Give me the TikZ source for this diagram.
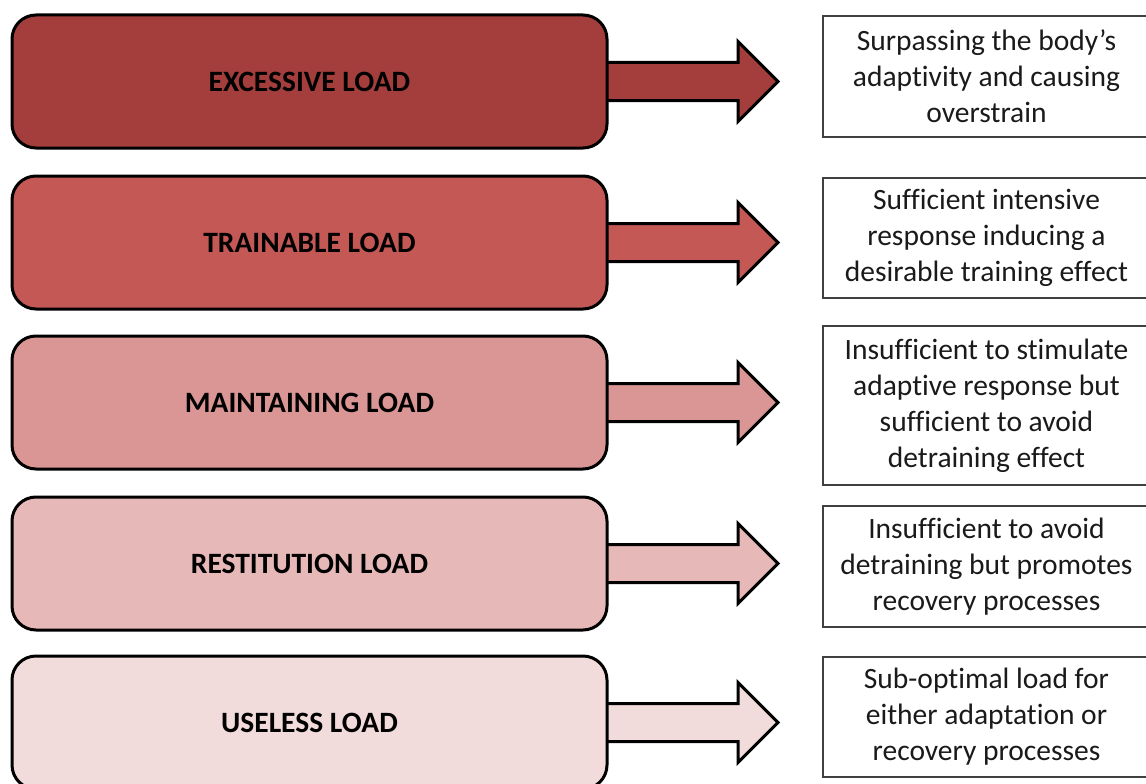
\documentclass[tikz,border=0pt]{standalone}
\usepackage{fontspec}
\setmainfont{Carlito}[Ligatures={TeX,NoCommon}]
\usetikzlibrary{calc}
\definecolor{cA}{HTML}{A33E3C}
\definecolor{cB}{HTML}{C35855}
\definecolor{cC}{HTML}{D99694}
\definecolor{cD}{HTML}{E6B9B8}
\definecolor{cE}{HTML}{F2DCDB}
\definecolor{descline}{HTML}{404040}
\definecolor{txt}{HTML}{1A1A1A}
\begin{document}
\begin{tikzpicture}[x=1pt,y=-1pt,
  loadbox/.style={draw=black, line width=3pt, rounded corners=24pt,
    minimum width=595pt, minimum height=133pt, inner sep=0pt,
    font=\fontsize{29.5}{35}\selectfont\bfseries},
  descbox/.style={draw=descline, line width=1.3pt, fill=white, align=center,
    minimum width=327pt, inner sep=0pt, text=txt,
    font=\fontsize{29.5}{36}\selectfont},
  blockarrow/.style={draw=black, line width=3pt, line join=miter}
]
\useasboundingbox (0,0) rectangle (1146,784);
\clip (0,0) rectangle (1146,784);
\fill[white] (0,0) rectangle (1146,784);

% coordinates for the arrows (drawn before the boxes)
\coordinate (P1) at (607,81.5);
\coordinate (P2) at (607,242.5);
\coordinate (P3) at (607,402.5);
\coordinate (P4) at (607,563.5);
\coordinate (P5) at (607,722.5);

\foreach \p/\c in {P1/cA,P2/cB,P3/cC,P4/cD,P5/cE}{
  \fill[\c] ($(\p)+(0,-19)$) -- ++(131,0) -- ++(0,-21) -- ++(40,40)
     -- ++(-40,40) -- ++(0,-21) -- ++(-131,0) -- cycle;
  \draw[blockarrow] ($(\p)+(0,-19)$) -- ++(131,0) -- ++(0,-21) -- ++(40,40)
     -- ++(-40,40) -- ++(0,-21) -- ++(-131,0);
}

% load boxes
\node[loadbox, fill=cA] (L1) at (309.5,81.5) {EXCESSIVE LOAD};
\node[loadbox, fill=cB] (L2) at (309.5,242.5) {TRAINABLE LOAD};
\node[loadbox, fill=cC] (L3) at (309.5,402.5) {MAINTAINING LOAD};
\node[loadbox, fill=cD] (L4) at (309.5,563.5) {RESTITUTION LOAD};
\node[loadbox, fill=cE] (L5) at (309.5,722.5) {USELESS LOAD};

% description boxes
\node[descbox, minimum height=121pt] (D1) at (986.5,76.5)
  {Surpassing the body’s\\adaptivity and causing\\overstrain};
\node[descbox, minimum height=120pt] (D2) at (986.5,238)
  {Sufficient intensive\\response inducing a\\desirable training effect};
\node[descbox, minimum height=159pt] (D3) at (986.5,405.5)
  {Insufficient to stimulate\\adaptive response but\\sufficient to avoid\\detraining effect};
\node[descbox, minimum height=121pt] (D4) at (986.5,566.5)
  {Insufficient to avoid\\detraining but promotes\\recovery processes};
\node[descbox, minimum height=120pt] (D5) at (986.5,717)
  {Sub-optimal load for\\either adaptation or\\recovery processes};
\end{tikzpicture}
\end{document}
